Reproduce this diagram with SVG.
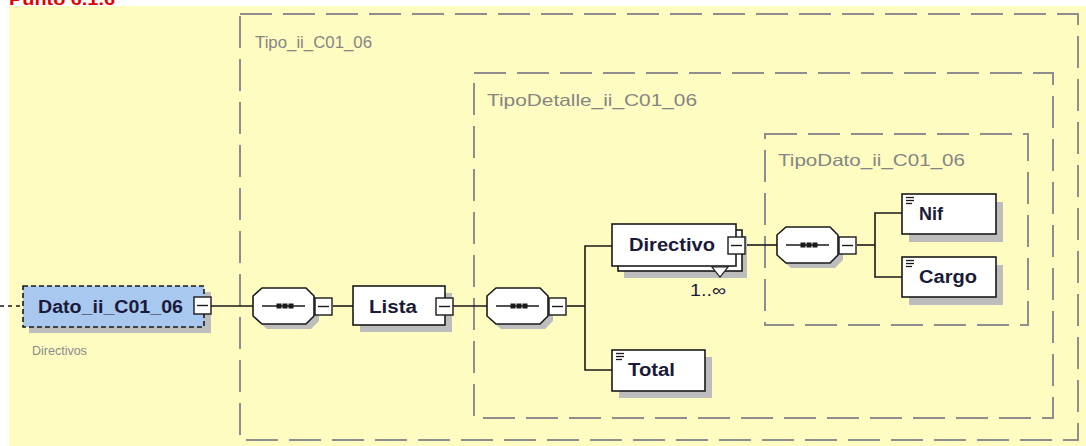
<svg xmlns="http://www.w3.org/2000/svg" width="1086" height="446" viewBox="0 0 1086 446">
<defs>
<style>
.frame{fill:none;stroke:#8e8e8e;stroke-width:2;stroke-dasharray:32 11}
.tlabel{font-family:"Liberation Sans",Arial,sans-serif;font-size:16.5px;fill:#858585}
.node{fill:#ffffff;stroke:#1a1a1a;stroke-width:1.6}
.shadow{fill:#bdbdbd;stroke:none}
.ntext{font-family:"Liberation Sans",Arial,sans-serif;font-size:17.5px;font-weight:bold;fill:#1a1a3a}
.conn{fill:none;stroke:#1a1a1a;stroke-width:1.6}
.exp{fill:#ffffff;stroke:#1a1a1a;stroke-width:1.4}
.icon{stroke:#1a1a1a;stroke-width:1.3}
</style>
<g id="expbox">
<rect class="exp" x="0" y="0" width="17" height="17"/>
<line x1="3" y1="8.5" x2="14" y2="8.5" stroke="#1a1a1a" stroke-width="1.4"/>
</g>
<g id="seq">
<polygon class="shadow" points="14,5 58,5 66,13 66,33 58,41 14,41 5,33 5,13"/>
<polygon class="node" points="9,0 53,0 61,8 61,28 53,36 9,36 0,28 0,8"/>
<line x1="9" y1="18" x2="52" y2="18" stroke="#1a1a1a" stroke-width="1.4"/>
<rect x="23.5" y="15.5" width="5" height="5" fill="#1a1a1a"/>
<rect x="29.5" y="15.5" width="5" height="5" fill="#1a1a1a"/>
<rect x="35.5" y="15.5" width="5" height="5" fill="#1a1a1a"/>
</g>
<g id="doc">
<line class="icon" x1="0" y1="0.5" x2="8" y2="0.5"/>
<line class="icon" x1="0" y1="3.5" x2="8" y2="3.5"/>
<line class="icon" x1="0" y1="6.5" x2="6" y2="6.5"/>
</g>
</defs>

<rect x="0" y="0" width="1086" height="446" fill="#ffffff"/>
<rect x="9" y="6" width="1077" height="440" fill="#fffcc2"/>
<text x="9" y="5" font-family="Liberation Sans,Arial,sans-serif" font-size="16" font-weight="bold" fill="#e00000" textLength="106" lengthAdjust="spacingAndGlyphs">Punto 6.1.6</text>

<g id="Tipo_ii_C01_06">
<rect class="frame" x="240" y="14" width="838" height="426"/>
<text class="tlabel" x="255" y="48" textLength="117" lengthAdjust="spacingAndGlyphs">Tipo_ii_C01_06</text>
</g>
<g id="TipoDetalle_ii_C01_06">
<rect class="frame" x="474" y="73" width="579" height="345"/>
<text class="tlabel" x="487" y="106" textLength="210" lengthAdjust="spacingAndGlyphs">TipoDetalle_ii_C01_06</text>
</g>
<g id="TipoDato_ii_C01_06">
<rect class="frame" x="765" y="134" width="263" height="191"/>
<text class="tlabel" x="778" y="166" textLength="187" lengthAdjust="spacingAndGlyphs">TipoDato_ii_C01_06</text>
</g>

<g id="connectors">
<line x1="0" y1="306" x2="22" y2="306" stroke="#1a1a1a" stroke-width="1.5" stroke-dasharray="4 4"/>
<line class="conn" x1="211" y1="306" x2="253" y2="306"/>
<line class="conn" x1="333" y1="306" x2="353" y2="306"/>
<line class="conn" x1="453" y1="306" x2="487" y2="306"/>
<line class="conn" x1="567" y1="306" x2="585" y2="306"/>
<polyline class="conn" points="612,246 585,246 585,370 612,370"/>
<line class="conn" x1="745" y1="245" x2="777" y2="245"/>
<line class="conn" x1="857" y1="245" x2="875" y2="245"/>
<polyline class="conn" points="902,213 875,213 875,277 902,277"/>
</g>

<g id="Dato_ii_C01_06">
<rect class="shadow" x="29" y="292" width="182" height="41"/>
<rect x="23" y="286" width="181" height="41" fill="#a9c8f0" stroke="#1a1a1a" stroke-width="1.6" stroke-dasharray="5 3"/>
<text class="ntext" x="38" y="313" textLength="145" lengthAdjust="spacingAndGlyphs">Dato_ii_C01_06</text>
<use href="#expbox" x="194" y="297"/>
<text x="32" y="355" font-family="Liberation Sans,Arial,sans-serif" font-size="12.5" fill="#8a8a8a">Directivos</text>
</g>

<g id="seq1">
<use href="#seq" x="253" y="288"/>
<use href="#expbox" x="315" y="298"/>
</g>

<g id="Lista">
<rect class="shadow" x="360" y="293" width="92" height="39"/>
<rect class="node" x="353" y="286" width="92" height="39"/>
<text class="ntext" x="369" y="313" textLength="48" lengthAdjust="spacingAndGlyphs">Lista</text>
<use href="#expbox" x="436" y="298"/>
</g>

<g id="seq2">
<use href="#seq" x="487" y="288"/>
<use href="#expbox" x="549" y="298"/>
</g>

<g id="Directivo">
<rect class="shadow" x="624" y="236" width="123" height="42"/>
<rect class="node" x="618" y="230" width="124" height="41"/>
<rect class="node" x="612" y="224" width="124" height="42"/>
<text class="ntext" x="629" y="251" textLength="86" lengthAdjust="spacingAndGlyphs">Directivo</text>
<use href="#expbox" x="728" y="237"/>
<polygon points="712,267 728,267 720,277" fill="#ffffff" stroke="#1a1a1a" stroke-width="1.2"/>
<text x="690" y="296" font-family="Liberation Sans,Arial,sans-serif" font-size="16.5" fill="#1a1a3a" textLength="36" lengthAdjust="spacingAndGlyphs">1..∞</text>
</g>

<g id="seq3">
<use href="#seq" x="777" y="227"/>
<use href="#expbox" x="839" y="237"/>
</g>

<g id="Nif">
<rect class="shadow" x="909" y="202" width="94" height="40"/>
<rect class="node" x="902" y="194" width="94" height="40"/>
<use href="#doc" x="906" y="197"/>
<text class="ntext" x="919" y="220" textLength="24" lengthAdjust="spacingAndGlyphs">Nif</text>
</g>

<g id="Cargo">
<rect class="shadow" x="909" y="265" width="94" height="40"/>
<rect class="node" x="902" y="257" width="94" height="40"/>
<use href="#doc" x="906" y="260"/>
<text class="ntext" x="919" y="283" textLength="58" lengthAdjust="spacingAndGlyphs">Cargo</text>
</g>

<g id="Total">
<rect class="shadow" x="619" y="357" width="93" height="41"/>
<rect class="node" x="612" y="350" width="93" height="41"/>
<use href="#doc" x="616" y="353"/>
<text class="ntext" x="628" y="376" textLength="47" lengthAdjust="spacingAndGlyphs">Total</text>
</g>
</svg>
